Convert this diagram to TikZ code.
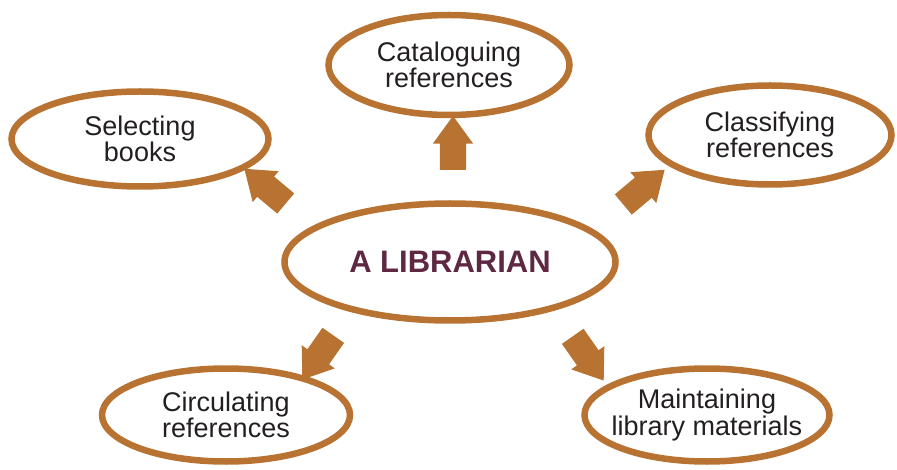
\documentclass[tikz,border=0pt]{standalone}
\usepackage{fontspec}
\setmainfont{Liberation Sans}
\usetikzlibrary{shapes,arrows}
\usepackage{xcolor}
\definecolor{cobre}{RGB}{184,115,51}
\definecolor{vino}{RGB}{94,40,66}
\definecolor{tinta}{RGB}{35,31,32}

\begin{document}
\begin{tikzpicture}[x=1pt,y=-1pt,
        oval/.style={ellipse,draw=cobre,line width=6.5pt,inner xsep=-20pt,inner ysep=-5pt,
                align=center,text=tinta,font=\fontsize{27}{24}\selectfont},
        flecha/.style={single arrow,fill=cobre,draw=none,inner xsep=0pt,inner ysep=13pt,
                minimum height=54pt,single arrow head extend=7pt,single arrow tip angle=72}]
        \useasboundingbox (0,0) rectangle (897,470);
        % centro
        \node[oval,minimum width=331pt,minimum height=117pt,text=vino,
                font=\fontsize{31}{31}\selectfont\bfseries] (lib) at (450,262) {A LIBRARIAN};
        % tareas
        \node[oval,minimum width=257pt,minimum height=95pt] (sel) at (140,139) {Selecting\\books};
        \node[oval,minimum width=241pt,minimum height=100pt] (cat) at (449,65) {Cataloguing\\references};
        \node[oval,minimum width=243pt,minimum height=99pt] (cla) at (770,135) {Classifying\\references};
        \node[oval,minimum width=248pt,minimum height=93pt] (cir) at (226,415) {Circulating\\references};
        \node[oval,minimum width=245pt,minimum height=93pt] (mai) at (707,415) {Maintaining\\library materials};
        % flechas
        \node[flecha,rotate=90] (fcat) at (453,152) {};
        \node[flecha,rotate=140] (fsel) at (272,192) {};
        \node[flecha,rotate=40] (fcla) at (637,193) {};
        \node[flecha,rotate=235] (fcir) at (323,350) {};
        \node[flecha,rotate=305] (fmai) at (583,351) {};
\end{tikzpicture}
\end{document}
